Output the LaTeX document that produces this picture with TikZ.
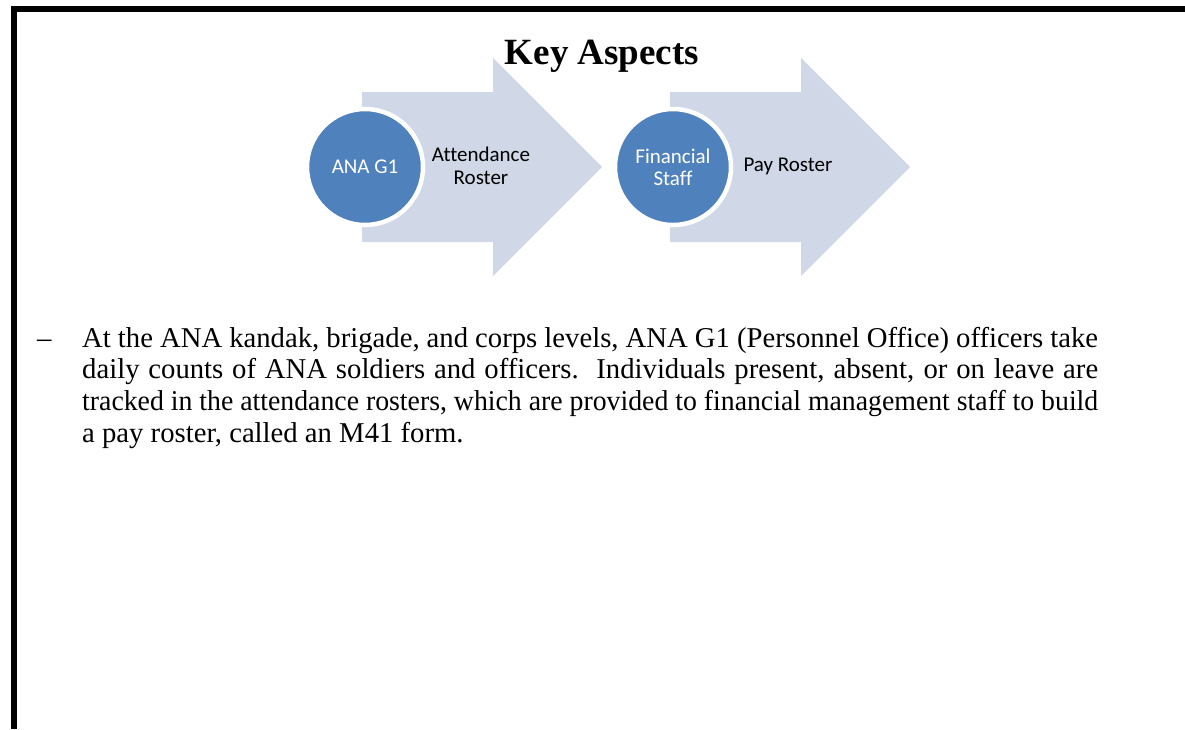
\documentclass[tikz,border=0pt]{standalone}
\usepackage{fontspec}
\usepackage{graphicx}
\setmainfont{Liberation Serif}
\newfontfamily\calibri[Ligatures=NoCommon]{Carlito}
\definecolor{circblue}{RGB}{79,129,189}
\definecolor{arrowgrey}{RGB}{208,216,232}
\begin{document}
\begin{tikzpicture}[x=1pt,y=-1pt,
  bigarrow/.style={fill=arrowgrey,draw=none},
  actor/.style={circle,fill=circblue,draw=white,line width=4.5pt,minimum size=116pt,inner sep=0pt,text=white,font=\calibri\fontsize{21}{23}\selectfont,align=center},
  arrowlabel/.style={font=\calibri\fontsize{21}{23}\selectfont,align=center,text=black,inner sep=0pt},
  bodyline/.style={anchor=base west,inner sep=0pt,font=\fontsize{28.7}{31.7}\selectfont}
]
\useasboundingbox (0,0) rectangle (1185,729);
\fill[white] (0,0) rectangle (1185,729);
% frame
\draw[line width=6pt] (14,729) -- (14,8.5) -- (1185,8.5);
% arrows
\path[bigarrow] (362,92) -- (493,92) -- (493,58) -- (602,167) -- (493,276) -- (493,242) -- (362,242) -- cycle;
\path[bigarrow] (670,92) -- (801,92) -- (801,58) -- (910,167) -- (801,276) -- (801,242) -- (670,242) -- cycle;
% title
\node[anchor=base,inner sep=0pt,font=\bfseries\fontsize{37}{40}\selectfont] (title) at (602,64) {Key Aspects};
% circles
\node[actor] (g1) at (365,167) {ANA G1};
\node[actor] (fin) at (673,167) {Financial\\[-1pt]Staff};
\node[arrowlabel] (att) at (481,166) {Attendance\\Roster};
\node[arrowlabel] (pay) at (788,166) {Pay Roster};
% body text
\node[bodyline] (dash) at (37,347) {--};
\node[bodyline] (l1) at (82,347) {\makebox[1016pt][s]{At the ANA kandak, brigade, and corps levels, ANA G1 (Personnel Office) officers take}};
\node[bodyline] (l2) at (82,378.7) {\makebox[1016pt][s]{daily counts of ANA soldiers and officers.\ \ Individuals present, absent, or on leave are}};
\node[bodyline] (l3) at (82,410.4) {\resizebox{1016pt}{\height}{tracked in the attendance rosters, which are provided to financial management staff to build}};
\node[bodyline] (l4) at (82,442.1) {a pay roster, called an M41 form.};
\end{tikzpicture}
\end{document}
